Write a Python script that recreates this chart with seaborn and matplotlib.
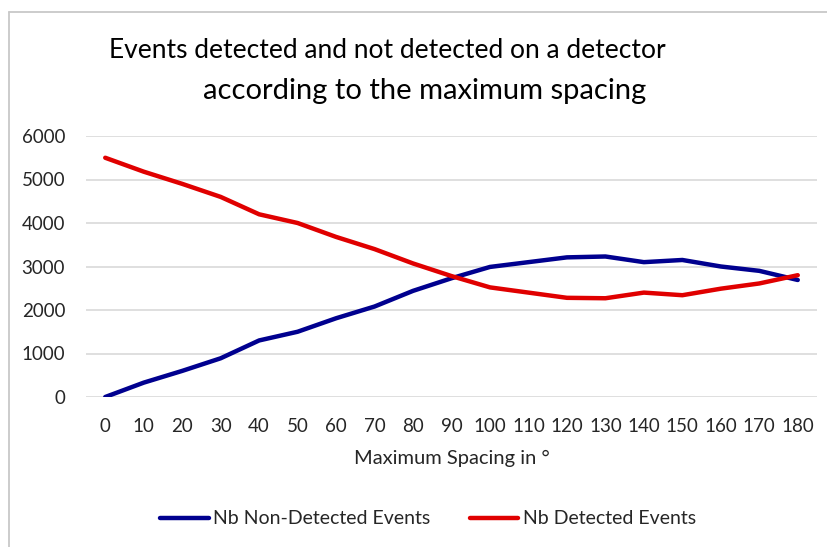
import pandas as pd
import matplotlib.pyplot as plt
import seaborn as sns
from matplotlib.lines import Line2D

# values
spacing = [0, 10, 20, 30, 40, 50, 60, 70, 80, 90, 100, 110, 120, 130, 140, 150, 160, 170, 180]
non_detected = [0, 330, 600, 890, 1300, 1500, 1810, 2080, 2440, 2730, 2990, 3100, 3210, 3230, 3100, 3150, 3000, 2900, 2690]
detected = [5500, 5180, 4900, 4600, 4200, 4000, 3680, 3400, 3070, 2780, 2520, 2400, 2280, 2270, 2400, 2340, 2490, 2610, 2800]
y_ticks = [0, 1000, 2000, 3000, 4000, 5000, 6000]
title_lines = ['Events detected and not detected on a detector', 'according to the maximum spacing']

df = pd.DataFrame({
    'Maximum Spacing': spacing * 2,
    'Events': non_detected + detected,
    'Series': ['Nb Non-Detected Events'] * len(spacing) + ['Nb Detected Events'] * len(spacing),
})

sns.set_theme(style="white")
plt.rcParams['font.family'] = ['Lato', 'DejaVu Sans']

fig = plt.figure(figsize=(8.28, 5.47), dpi=100)
ax = fig.add_axes([86 / 828, 1 - 397 / 547, (817 - 86) / 828, (397 - 136) / 547])

sns.lineplot(data=df, x='Maximum Spacing', y='Events', hue='Series',
             palette={'Nb Non-Detected Events': '#00008F', 'Nb Detected Events': '#E00000'},
             linewidth=3.2, ax=ax, legend=True)

ax.set_xlim(-5, 185)
ax.set_ylim(0, 6000)
ax.set_xticks(spacing)
ax.set_yticks(y_ticks)
ax.tick_params(axis='both', length=0, labelsize=13.5, colors='#262626')
ax.tick_params(axis='x', pad=15)
ax.tick_params(axis='y', pad=15)
ax.yaxis.grid(True, color='#D9D9D9', linewidth=1.2)
ax.set_axisbelow(True)
for s in ax.spines.values():
    s.set_visible(False)

ax.set_xlabel('Maximum Spacing in °', fontsize=14.5, color='#262626', labelpad=11)
ax.set_ylabel('')

# title: two lines, as laid out in the reference
fig.text(387 / 828, 1 - 50 / 547, title_lines[0], ha='center', va='center',
         fontsize=19, color='black')
fig.text(425 / 828, 1 - 91 / 547, title_lines[1], ha='center', va='center',
         fontsize=21, color='black')

handles, labels = ax.get_legend_handles_labels()
ax.get_legend().remove()
fig.legend(handles, labels, loc='center', bbox_to_anchor=(428 / 828, 1 - 519 / 547),
           ncol=2, frameon=False, fontsize=14, handlelength=2.5, handletextpad=0.25,
           columnspacing=2.0, labelcolor='#262626')

# light chart border (left and top visible in the reference)
fig.add_artist(Line2D([8.5 / 828, 8.5 / 828], [0, 1 - 11.5 / 547], transform=fig.transFigure,
                      color='#C8C8C8', linewidth=1.3))
fig.add_artist(Line2D([8.5 / 828, 1], [1 - 11.5 / 547, 1 - 11.5 / 547], transform=fig.transFigure,
                      color='#C8C8C8', linewidth=1.3))

fig.savefig('out.png', dpi=100)
